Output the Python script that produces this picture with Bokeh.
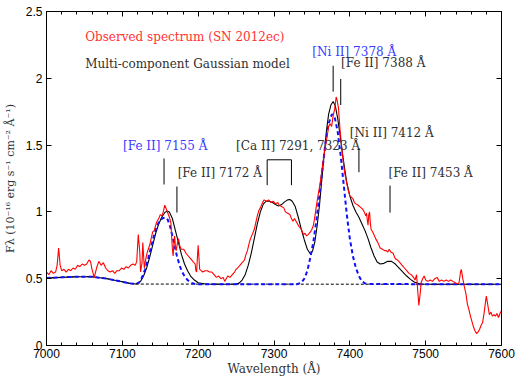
from bokeh.plotting import figure
from bokeh.models import LinearAxis, SingleIntervalTicker, NumeralTickFormatter, Label
from bokeh.embed import file_html
from bokeh.resources import INLINE

# ---------------- data ----------------
obs_wave = [7000, 7003, 7006, 7009, 7012, 7014, 7016, 7018, 7020, 7023, 7026, 7029, 7032, 7035, 7038,
            7041, 7044, 7047, 7050, 7053, 7056, 7058, 7060, 7063, 7066, 7069, 7072, 7075, 7078, 7081,
            7084, 7087, 7090, 7093, 7096, 7099, 7102, 7105, 7108, 7111, 7114, 7117, 7119, 7121, 7123,
            7124, 7126, 7127, 7129, 7131, 7133, 7136, 7138, 7140, 7142, 7145, 7148, 7150, 7152, 7154,
            7156, 7158, 7160, 7162, 7164, 7165, 7166, 7167, 7168, 7169, 7170, 7171, 7173, 7174, 7176,
            7178, 7181, 7184, 7187, 7190, 7193, 7196, 7197, 7198, 7199, 7200, 7201, 7202, 7204, 7206,
            7209, 7212, 7215, 7218, 7221, 7224, 7227, 7230, 7233, 7235, 7237, 7239, 7242, 7245, 7248,
            7250, 7252, 7255, 7258, 7261, 7263, 7265, 7267, 7269, 7272, 7274, 7276, 7278, 7280, 7282,
            7285, 7287, 7290, 7293, 7296, 7299, 7302, 7305, 7307, 7310, 7313, 7315, 7318, 7321, 7323,
            7325, 7327, 7330, 7333, 7336, 7339, 7341, 7343, 7345, 7348, 7350, 7352, 7354, 7356, 7358,
            7361, 7363, 7365, 7367, 7369, 7371, 7372, 7374, 7376, 7377, 7378, 7380, 7382, 7383, 7385,
            7387, 7389, 7391, 7393, 7395, 7398, 7400, 7402, 7404, 7406, 7408, 7411, 7413, 7415, 7417,
            7419, 7421, 7422, 7423, 7424, 7425, 7426, 7427, 7428, 7431, 7434, 7437, 7440, 7443, 7446,
            7448, 7450, 7452, 7454, 7457, 7460, 7463, 7466, 7469, 7472, 7475, 7478, 7481, 7484, 7486,
            7488, 7489, 7491, 7493, 7494, 7496, 7498, 7500, 7503, 7506, 7509, 7512, 7515, 7518, 7521,
            7524, 7527, 7530, 7533, 7536, 7539, 7542, 7544, 7546, 7547, 7549, 7551, 7553, 7555, 7557,
            7559, 7561, 7563, 7565, 7567, 7569, 7571, 7573, 7575, 7577, 7579, 7580, 7582, 7584, 7586,
            7588, 7590, 7592, 7594, 7596, 7598, 7600]
obs_flux = [0.55, 0.53, 0.56, 0.54, 0.55, 0.60, 0.73, 0.60, 0.56, 0.57, 0.55, 0.57, 0.56, 0.58, 0.57,
            0.60, 0.59, 0.61, 0.60, 0.61, 0.64, 0.63, 0.57, 0.51, 0.58, 0.63, 0.60, 0.62, 0.58, 0.56,
            0.55, 0.56, 0.54, 0.56, 0.56, 0.58, 0.57, 0.59, 0.58, 0.60, 0.61, 0.60, 0.63, 0.83, 0.70,
            0.55, 0.62, 0.77, 0.58, 0.65, 0.70, 0.75, 0.80, 0.85, 0.86, 0.92, 0.95, 0.98, 0.97, 1.00,
            1.05, 1.02, 0.99, 0.96, 0.92, 0.82, 0.72, 0.67, 0.76, 0.82, 0.74, 0.71, 0.78, 0.80, 0.74,
            0.72, 0.72, 0.69, 0.67, 0.65, 0.63, 0.61, 0.56, 0.55, 0.66, 0.75, 0.66, 0.57, 0.56, 0.55,
            0.56, 0.56, 0.55, 0.55, 0.53, 0.51, 0.52, 0.50, 0.51, 0.48, 0.50, 0.52, 0.51, 0.53, 0.55,
            0.57, 0.58, 0.60, 0.62, 0.64, 0.68, 0.71, 0.76, 0.80, 0.84, 0.87, 0.92, 0.97, 1.01, 1.03,
            1.07, 1.09, 1.08, 1.09, 1.07, 1.08, 1.06, 1.07, 1.05, 1.04, 1.03, 1.00, 0.99, 0.98, 0.95,
            0.93, 0.95, 0.92, 0.89, 0.87, 0.83, 0.84, 0.82, 0.83, 0.85, 0.87, 0.90, 0.97, 1.05, 1.12,
            1.22, 1.30, 1.39, 1.46, 1.53, 1.60, 1.64, 1.66, 1.64, 1.68, 1.72, 1.77, 1.86, 1.84, 1.78,
            1.62, 1.50, 1.39, 1.30, 1.24, 1.16, 1.12, 1.11, 1.10, 1.07, 1.06, 1.05, 1.04, 1.03, 1.02,
            1.00, 0.97, 0.99, 0.94, 0.90, 0.98, 1.00, 0.92, 0.87, 0.84, 0.80, 0.77, 0.73, 0.72, 0.71,
            0.71, 0.70, 0.72, 0.70, 0.69, 0.65, 0.64, 0.62, 0.60, 0.58, 0.56, 0.54, 0.53, 0.51, 0.49,
            0.53, 0.45, 0.30, 0.40, 0.47, 0.50, 0.52, 0.49, 0.48, 0.49, 0.48, 0.50, 0.51, 0.48, 0.49,
            0.48, 0.49, 0.48, 0.49, 0.48, 0.47, 0.46, 0.47, 0.55, 0.57, 0.50, 0.44, 0.39, 0.31, 0.27,
            0.22, 0.18, 0.14, 0.11, 0.09, 0.10, 0.12, 0.15, 0.17, 0.24, 0.33, 0.37, 0.30, 0.23, 0.25,
            0.22, 0.23, 0.22, 0.24, 0.21, 0.24, 0.26]

model_wave = [7000, 7020, 7040, 7060, 7080, 7100, 7110, 7118, 7124, 7128, 7132, 7136, 7140, 7144, 7148,
              7152, 7156, 7159, 7162, 7166, 7170, 7174, 7178, 7182, 7186, 7190, 7195, 7200, 7210, 7220,
              7240, 7250, 7254, 7258, 7262, 7266, 7270, 7274, 7278, 7282, 7286, 7290, 7294, 7298, 7302,
              7306, 7310, 7314, 7318, 7321, 7324, 7328, 7332, 7336, 7340, 7344, 7348, 7351, 7354, 7357,
              7360, 7363, 7366, 7369, 7372, 7375, 7378, 7381, 7384, 7387, 7390, 7393, 7396, 7400, 7404,
              7408, 7412, 7416, 7420, 7424, 7428, 7432, 7436, 7440, 7445, 7450, 7455, 7460, 7465, 7470,
              7475, 7480, 7485, 7490, 7495, 7500, 7600]
model_flux = [0.505, 0.51, 0.515, 0.515, 0.50, 0.477, 0.465, 0.46, 0.48, 0.52, 0.58, 0.66, 0.75, 0.84, 0.91,
              0.96, 0.995, 1.006, 1.0, 0.95, 0.86, 0.77, 0.68, 0.61, 0.56, 0.52, 0.49, 0.47, 0.46, 0.458,
              0.458, 0.46, 0.467, 0.49, 0.53, 0.60, 0.69, 0.80, 0.91, 1.0, 1.06, 1.08, 1.08, 1.07, 1.055,
              1.045, 1.055, 1.075, 1.09, 1.093, 1.08, 1.04, 0.96, 0.87, 0.79, 0.72, 0.685, 0.71, 0.78, 0.90,
              1.05, 1.24, 1.42, 1.60, 1.73, 1.80, 1.826, 1.79, 1.70, 1.58, 1.45, 1.33, 1.22, 1.12, 1.05,
              1.00, 0.96, 0.91, 0.86, 0.80, 0.73, 0.67, 0.625, 0.61, 0.615, 0.63, 0.63, 0.61, 0.58, 0.55,
              0.52, 0.495, 0.475, 0.465, 0.46, 0.458, 0.458]

fe_ni_wave = [7000, 7020, 7040, 7060, 7080, 7100, 7110, 7118, 7122, 7126, 7130, 7134, 7138, 7142, 7146,
              7150, 7154, 7157, 7160, 7163, 7166, 7169, 7172, 7175, 7178, 7182, 7186, 7190, 7195, 7200,
              7330, 7336, 7340, 7344, 7348, 7352, 7356, 7360, 7364, 7368, 7372, 7376, 7378, 7380, 7384,
              7388, 7392, 7396, 7400, 7404, 7408, 7412, 7416, 7420, 7425, 7600]
fe_ni_flux = [0.505, 0.51, 0.515, 0.515, 0.50, 0.477, 0.465, 0.46, 0.47, 0.51, 0.57, 0.65, 0.74, 0.83, 0.90,
              0.94, 0.955, 0.958, 0.94, 0.89, 0.82, 0.74, 0.67, 0.61, 0.56, 0.52, 0.49, 0.47, 0.462, 0.458,
              0.458, 0.47, 0.50, 0.56, 0.66, 0.78, 0.94, 1.13, 1.33, 1.52, 1.66, 1.727, 1.73, 1.71, 1.60,
              1.42, 1.20, 0.98, 0.80, 0.67, 0.58, 0.52, 0.48, 0.465, 0.46, 0.458]

cont_wave = [7000, 7020, 7040, 7060, 7080, 7100, 7110, 7118, 7600]
cont_flux = [0.505, 0.51, 0.515, 0.515, 0.50, 0.477, 0.465, 0.46, 0.458]

# line identifications: (wavelength, bottom, top)
mark_wave = [7155, 7172, 7378, 7388, 7412, 7453]
mark_y0 = [1.205, 0.995, 1.90, 1.80, 1.297, 0.995]
mark_y1 = [1.40, 1.19, 2.094, 1.995, 1.478, 1.197]
ca_waves = [7291, 7323]

labels = ["Observed spectrum (SN 2012ec)", "Multi-component Gaussian model",
          "[Fe II] 7155 Å", "[Fe II] 7172 Å", "[Ca II] 7291, 7323 Å", "[Ni II] 7378 Å",
          "[Fe II] 7388 Å", "[Ni II] 7412 Å", "[Fe II] 7453 Å"]
label_x = [7051, 7051, 7101, 7173, 7250, 7350.5, 7388.5, 7400, 7451]
label_y = [2.307, 2.11, 1.495, 1.294, 1.495, 2.196, 2.114, 1.59, 1.294]
label_col = ["#ff3030", "#303030", "#3a3aff", "#303030", "#303030", "#3a3aff",
             "#303030", "#303030", "#303030"]

# ---------------- figure ----------------
p = figure(width=515, height=378, x_range=(7000, 7600), y_range=(0, 2.5),
           output_backend="svg", toolbar_location=None,
           min_border_left=42, min_border_right=14, min_border_top=11, min_border_bottom=31)
p.background_fill_color = "white"
p.border_fill_color = "white"
p.xgrid.visible = False
p.ygrid.visible = False
p.outline_line_color = "black"
p.outline_line_width = 1

xt = SingleIntervalTicker(interval=100, num_minor_ticks=5)
yt = SingleIntervalTicker(interval=0.5, num_minor_ticks=0)
p.xaxis.ticker = xt
p.yaxis.ticker = yt
p.yaxis.formatter = NumeralTickFormatter(format="0.[0]")

for ax in (p.xaxis[0], p.yaxis[0]):
    ax.major_tick_in = 5
    ax.major_tick_out = 0
    ax.minor_tick_in = 3
    ax.minor_tick_out = 0
    ax.axis_line_color = "black"
    ax.major_label_text_font = "Liberation Sans"
    ax.major_label_text_font_size = "12px"
    ax.major_label_text_color = "black"
    ax.axis_label_text_font = "DejaVu Serif"
    ax.axis_label_text_font_style = "normal"
    ax.axis_label_text_color = "#333333"

p.xaxis.axis_label = "Wavelength (Å)"
p.xaxis.axis_label_text_font_size = "12px"
p.xaxis.major_label_standoff = 3
p.xaxis.axis_label_standoff = 1
p.yaxis.axis_label = "Fλ (10⁻¹⁶ erg s⁻¹ cm⁻² Å⁻¹)"
p.yaxis.axis_label_text_font_size = "11px"
p.yaxis.major_label_standoff = 4
p.yaxis.axis_label_standoff = 6

top = LinearAxis(ticker=xt, major_label_text_font_size="1px", major_label_text_color=None,
                 major_label_standoff=0,
                 major_tick_in=5, major_tick_out=0, minor_tick_in=3, minor_tick_out=0)
right = LinearAxis(ticker=yt, major_label_text_font_size="1px", major_label_text_color=None,
                   major_label_standoff=0,
                   major_tick_in=5, major_tick_out=0, minor_tick_in=0, minor_tick_out=0)
p.add_layout(top, "above")
p.add_layout(right, "right")

# curves
p.line(cont_wave, cont_flux, line_color="black", line_width=1, line_dash="3 2")
p.line(model_wave, model_flux, line_color="black", line_width=1.1)
p.line(fe_ni_wave, fe_ni_flux, line_color="#1010ff", line_width=2, line_dash="4 3")
p.line(obs_wave, obs_flux, line_color="#ff0000", line_width=1.1)

# identification marks
p.segment(x0=mark_wave, y0=mark_y0, x1=mark_wave, y1=mark_y1, line_color="black", line_width=1)
p.segment(x0=ca_waves, y0=[1.2, 1.2], x1=ca_waves, y1=[1.39, 1.39], line_color="black", line_width=1)
p.segment(x0=[ca_waves[0]], y0=[1.39], x1=[ca_waves[1]], y1=[1.39], line_color="black", line_width=1)

for t, x, y, c in zip(labels, label_x, label_y, label_col):
    p.add_layout(Label(x=x, y=y, text=t, text_color=c, text_font="DejaVu Serif",
                       text_font_size="12px", text_baseline="middle", text_align="left"))

open("out.html", "w").write(file_html(p, INLINE))
